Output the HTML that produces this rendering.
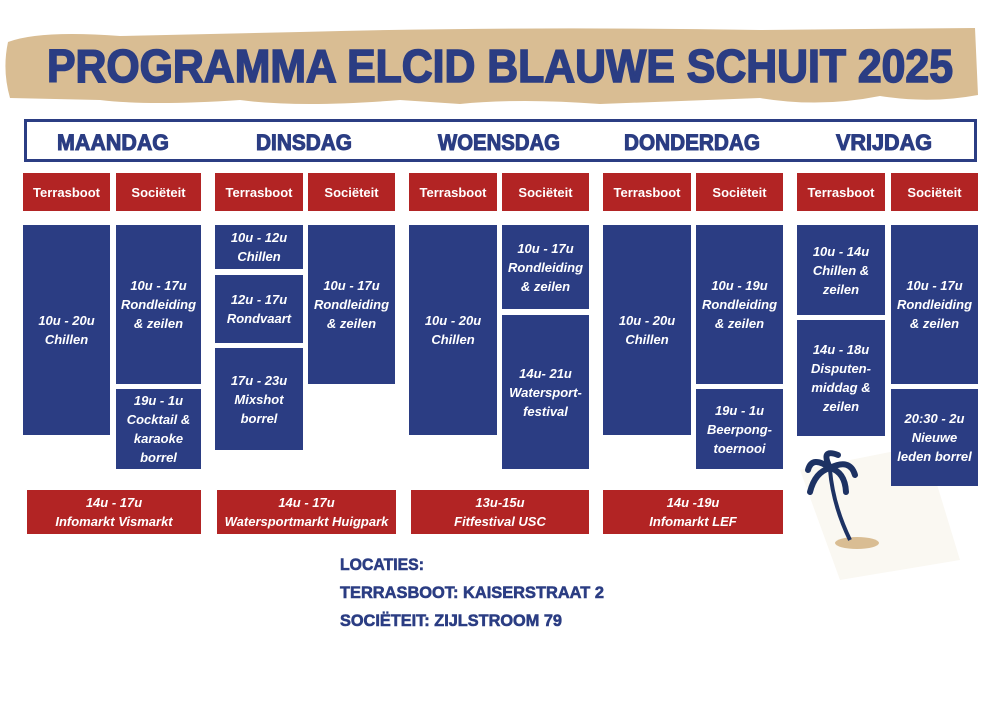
<!DOCTYPE html>
<html><head><meta charset="utf-8">
<style>
body{margin:0;width:1000px;height:706px;background:#fff;position:relative;overflow:hidden;font-family:"Liberation Sans",sans-serif}
.b{position:absolute;background:#2b3d83;color:#fff;font-style:italic;font-weight:bold;font-size:13px;line-height:19px;display:flex;align-items:center;justify-content:center;text-align:center}
.r{position:absolute;background:#b22424;color:#fff;font-weight:bold;font-size:13px;display:flex;align-items:center;justify-content:center;text-align:center}
.ri{font-style:italic;line-height:19px}
svg{position:absolute;left:0;top:0}
</style></head><body>
<svg width="1000" height="706">
<path d="M8,42 Q40,30 120,36 L300,32 Q520,26 760,30 L975,28 L978,95 Q930,104 880,96 Q820,108 760,98 L600,104 Q520,98 460,104 L400,100 Q300,108 240,100 Q150,106 100,100 L10,98 Q2,70 8,42Z" fill="#d9bd93"/>
<text x="47" y="82" textLength="906" lengthAdjust="spacingAndGlyphs" font-family="Liberation Sans" font-weight="bold" font-size="46" fill="#2b3d83" stroke="#2b3d83" stroke-width="1.6">PROGRAMMA ELCID BLAUWE SCHUIT 2025</text>
<rect x="25.5" y="120.5" width="950" height="40" fill="none" stroke="#2b3d83" stroke-width="3"/>
<g font-family="Liberation Sans" font-weight="bold" font-size="22" fill="#2b3d83" stroke="#2b3d83" stroke-width="1">
<text x="57" y="150" textLength="112" lengthAdjust="spacingAndGlyphs">MAANDAG</text>
<text x="256" y="150" textLength="96" lengthAdjust="spacingAndGlyphs">DINSDAG</text>
<text x="438" y="150" textLength="122" lengthAdjust="spacingAndGlyphs">WOENSDAG</text>
<text x="624" y="150" textLength="136" lengthAdjust="spacingAndGlyphs">DONDERDAG</text>
<text x="836" y="150" textLength="96" lengthAdjust="spacingAndGlyphs">VRIJDAG</text>
</g>
<polygon points="800,470 925,445 960,560 840,580" fill="#faf8f2"/>
<ellipse cx="857" cy="543" rx="22" ry="6" fill="#d9bd93"/>
<path d="M850,540 Q833,505 830,470" stroke="#1d3263" stroke-width="4" fill="none"/>
<path d="M830,468 Q812,455 808,470 M830,468 Q820,448 838,455 M830,468 Q850,458 855,475 M830,468 Q815,472 810,492 M830,468 Q845,472 846,492" stroke="#1d3263" stroke-width="6" fill="none" stroke-linecap="round"/>
<g font-family="Liberation Sans" font-weight="bold" font-size="17" fill="#2b3d83" stroke="#2b3d83" stroke-width="0.6">
<text x="340" y="570" textLength="84" lengthAdjust="spacingAndGlyphs">LOCATIES:</text>
<text x="340" y="598" textLength="264" lengthAdjust="spacingAndGlyphs">TERRASBOOT: KAISERSTRAAT 2</text>
<text x="340" y="626" textLength="222" lengthAdjust="spacingAndGlyphs">SOCIËTEIT: ZIJLSTROOM 79</text>
</g>
</svg>

<div class="r" style="left:23px;top:173px;width:87px;height:38px">Terrasboot</div>
<div class="r" style="left:116px;top:173px;width:85px;height:38px">Sociëteit</div>
<div class="r" style="left:215px;top:173px;width:88px;height:38px">Terrasboot</div>
<div class="r" style="left:308px;top:173px;width:87px;height:38px">Sociëteit</div>
<div class="r" style="left:409px;top:173px;width:88px;height:38px">Terrasboot</div>
<div class="r" style="left:502px;top:173px;width:87px;height:38px">Sociëteit</div>
<div class="r" style="left:603px;top:173px;width:88px;height:38px">Terrasboot</div>
<div class="r" style="left:696px;top:173px;width:87px;height:38px">Sociëteit</div>
<div class="r" style="left:797px;top:173px;width:88px;height:38px">Terrasboot</div>
<div class="r" style="left:891px;top:173px;width:87px;height:38px">Sociëteit</div>

<div class="b" style="left:23px;top:225px;width:87px;height:210px">10u - 20u<br>Chillen</div>
<div class="b" style="left:116px;top:225px;width:85px;height:159px">10u - 17u<br>Rondleiding<br>&amp; zeilen</div>
<div class="b" style="left:116px;top:389px;width:85px;height:80px">19u - 1u<br>Cocktail &amp;<br>karaoke<br>borrel</div>

<div class="b" style="left:215px;top:225px;width:88px;height:44px">10u - 12u<br>Chillen</div>
<div class="b" style="left:215px;top:275px;width:88px;height:68px">12u - 17u<br>Rondvaart</div>
<div class="b" style="left:215px;top:348px;width:88px;height:102px">17u - 23u<br>Mixshot<br>borrel</div>
<div class="b" style="left:308px;top:225px;width:87px;height:159px">10u - 17u<br>Rondleiding<br>&amp; zeilen</div>

<div class="b" style="left:409px;top:225px;width:88px;height:210px">10u - 20u<br>Chillen</div>
<div class="b" style="left:502px;top:225px;width:87px;height:84px">10u - 17u<br>Rondleiding<br>&amp; zeilen</div>
<div class="b" style="left:502px;top:315px;width:87px;height:154px">14u- 21u<br>Watersport-<br>festival</div>

<div class="b" style="left:603px;top:225px;width:88px;height:210px">10u - 20u<br>Chillen</div>
<div class="b" style="left:696px;top:225px;width:87px;height:159px">10u - 19u<br>Rondleiding<br>&amp; zeilen</div>
<div class="b" style="left:696px;top:389px;width:87px;height:80px">19u - 1u<br>Beerpong-<br>toernooi</div>

<div class="b" style="left:797px;top:225px;width:88px;height:90px">10u - 14u<br>Chillen &amp;<br>zeilen</div>
<div class="b" style="left:797px;top:320px;width:88px;height:116px">14u - 18u<br>Disputen-<br>middag &amp;<br>zeilen</div>
<div class="b" style="left:891px;top:225px;width:87px;height:159px">10u - 17u<br>Rondleiding<br>&amp; zeilen</div>
<div class="b" style="left:891px;top:389px;width:87px;height:97px">20:30 - 2u<br>Nieuwe<br>leden borrel</div>

<div class="r ri" style="left:27px;top:490px;width:174px;height:44px">14u - 17u<br>Infomarkt Vismarkt</div>
<div class="r ri" style="left:217px;top:490px;width:179px;height:44px">14u - 17u<br>Watersportmarkt Huigpark</div>
<div class="r ri" style="left:411px;top:490px;width:178px;height:44px">13u-15u<br>Fitfestival USC</div>
<div class="r ri" style="left:603px;top:490px;width:180px;height:44px">14u -19u<br>Infomarkt LEF</div>
</body></html>
